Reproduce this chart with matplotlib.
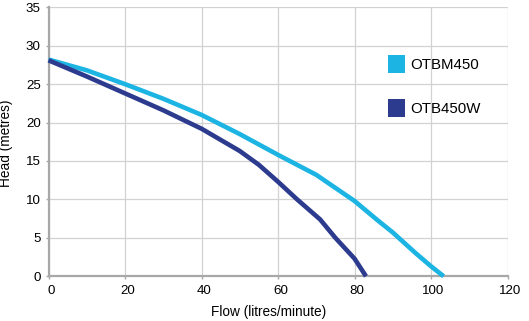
import matplotlib
matplotlib.use("Agg")
import matplotlib.pyplot as plt
from matplotlib.patches import Patch
from matplotlib.transforms import ScaledTranslation

plt.rcParams['font.family'] = ['Liberation Sans', 'DejaVu Sans']

# Pump performance curves: flow (litres/minute) vs head (metres)
otbm450_flow = [0, 10, 20, 30, 40, 50, 60, 70, 80, 86, 90, 96, 100, 103.3]
otbm450_head = [28.2, 26.8, 25.0, 23.1, 21.0, 18.5, 15.8, 13.2, 9.8, 7.3, 5.7, 3.0, 1.3, 0]

otb450w_flow = [0, 10, 20, 30, 35, 40, 50, 55, 60, 65, 71, 75, 80, 83]
otb450w_head = [28.1, 26.0, 23.8, 21.6, 20.4, 19.2, 16.3, 14.5, 12.3, 10.0, 7.4, 5.0, 2.3, 0]

series_names = ["OTBM450", "OTB450W"]
series_colors = ["#1cb4e2", "#2c3b8e"]

x_ticks = [0, 20, 40, 60, 80, 100, 120]
y_ticks = [0, 5, 10, 15, 20, 25, 30, 35]

fig = plt.figure(figsize=(5.29, 3.21), dpi=100)
ax = fig.add_axes([0.0917, 0.1393, 0.8677, 0.838])

ax.plot(otbm450_flow, otbm450_head, color=series_colors[0], lw=3.3,
        solid_capstyle='butt', solid_joinstyle='round', zorder=3, clip_on=False)
ax.plot(otb450w_flow, otb450w_head, color=series_colors[1], lw=3.3,
        solid_capstyle='butt', solid_joinstyle='round', zorder=3, clip_on=False)

ax.set_xlim(0, 120)
ax.set_ylim(0, 35)
ax.set_xticks(x_ticks)
ax.set_yticks(y_ticks)
ax.grid(True, color="#d2d2d2", lw=0.9, zorder=0)
ax.set_axisbelow(True)

for side in ("top", "right"):
    ax.spines[side].set_visible(False)
for side in ("left", "bottom"):
    ax.spines[side].set_color("#a8a8a8")
    ax.spines[side].set_linewidth(1.6)

ax.tick_params(axis='both', colors="#a8a8a8", labelcolor="black",
               length=2.5, width=1, labelsize=9.6)
ax.tick_params(axis='x', pad=4.0)
ax.tick_params(axis='y', pad=3.0)

# nudge the x tick labels slightly to the right of their ticks
shift = ScaledTranslation(0.025, 0, fig.dpi_scale_trans)
for lab in ax.get_xticklabels():
    lab.set_transform(lab.get_transform() + shift)

ax.set_xlabel("Flow (litres/minute)", fontsize=9.8)
ax.set_ylabel("Head (metres)", fontsize=9.8)
ax.xaxis.set_label_coords(0.48, -0.105)
ax.yaxis.set_label_coords(-0.077, 0.494)

handles = [Patch(facecolor=c, edgecolor='none', label=n)
           for n, c in zip(series_names, series_colors)]
ax.legend(handles=handles, loc='upper left', bbox_to_anchor=(0.7397, 0.822),
          frameon=False, fontsize=10.8, handlelength=1.15, handleheight=1.45,
          handletextpad=0.35, labelspacing=1.76, borderpad=0, borderaxespad=0)

fig.savefig("out.png", dpi=100)
